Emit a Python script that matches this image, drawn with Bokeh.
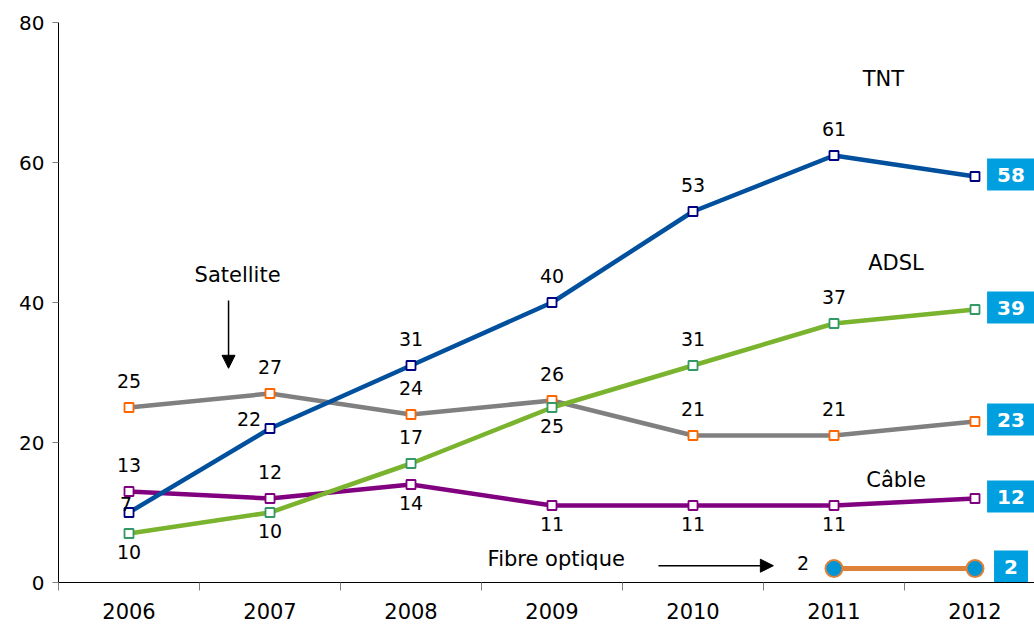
from bokeh.plotting import figure
from bokeh.models import Range1d, FixedTicker, ColumnDataSource, Label, Arrow, NormalHead
from bokeh.core.properties import value
from bokeh.embed import file_html
from bokeh.resources import INLINE

# ---- data ----
years = ["2006", "2007", "2008", "2009", "2010", "2011", "2012"]
tnt = [10, 22, 31, 40, 53, 61, 58]
adsl = [7, 10, 17, 25, 31, 37, 39]
satellite = [25, 27, 24, 26, 21, 21, 23]
cable = [13, 12, 14, 11, 11, 11, 12]
fibre_years = ["2011", "2012"]
fibre = [2, 2]

tnt_labels = ["7", "22", "31", "40", "53", "61"]
adsl_labels = ["10", "10", "17", "25", "31", "37"]
sat_labels = ["25", "27", "24", "26", "21", "21"]
cable_labels = ["13", "12", "14", "11", "11", "11"]
fibre_labels = ["2"]

y_ticks = [0, 20, 40, 60, 80]

# label placement styles (screen offsets)
tnt_pos = ["on", "left", "above", "above", "above", "above"]
adsl_pos = ["below", "below", "above", "below", "above", "above"]
sat_pos = ["above"] * 6
cable_pos = ["above", "above", "below", "below", "below", "below"]
fibre_pos = ["far_left"]
OFF = {"above": (0, -27), "below": (0, 18), "on": (-3, -9), "left": (-21, -10),
       "far_left": (-31, -6)}

FONT = "DejaVu Sans"
xi = {y: i + 0.5 for i, y in enumerate(years)}

p = figure(width=1034, height=626, output_backend="svg", toolbar_location=None,
           x_range=Range1d(0, 976 / 141.0), y_range=Range1d(0, 80),
           min_border_left=58, min_border_right=0, min_border_top=22, min_border_bottom=44)
p.outline_line_color = None
p.xgrid.visible = False
p.ygrid.visible = False
p.background_fill_color = "white"

# axes
xa = p.xaxis[0]
xa.ticker = FixedTicker(ticks=[xi[y] for y in years], minor_ticks=list(range(len(years) + 1)))
xa.major_label_overrides = {xi[y]: y for y in years}
xa.major_tick_out = 0
xa.major_tick_in = 0
xa.minor_tick_out = 8
xa.minor_tick_in = 0
xa.minor_tick_line_color = "#808080"
xa.axis_line_color = "black"
xa.major_label_text_font = FONT
xa.major_label_text_font_size = "21px"
xa.major_label_text_color = "black"
xa.major_label_standoff = 12

ya = p.yaxis[0]
ya.ticker = FixedTicker(ticks=y_ticks)
ya.major_tick_out = 6
ya.major_tick_in = 0
ya.minor_tick_line_color = None
ya.major_tick_line_color = "#808080"
ya.axis_line_color = "black"
ya.major_label_text_font = FONT
ya.major_label_text_font_size = "20px"
ya.major_label_text_color = "black"
ya.major_label_standoff = 8

series = [
    (cable, cable_labels, cable_pos, "#800080", "#800080"),
    (satellite, sat_labels, sat_pos, "#808080", "#FF6600"),
    (adsl, adsl_labels, adsl_pos, "#7AB32E", "#339966"),
    (tnt, tnt_labels, tnt_pos, "#00509E", "#000080"),
]

box_src = dict(x=[], y=[], t=[])
for vals, labs, pos, lc, mc in series:
    xs = [xi[y] for y in years]
    p.line(xs, vals, line_color=lc, line_width=4.5)
    p.scatter(xs, vals, marker="square", size=9, fill_color="white",
              line_color=mc, line_width=1.8)
    src = ColumnDataSource(dict(x=xs[:len(labs)], y=vals[:len(labs)], t=labs,
                                xo=[OFF[k][0] for k in pos], yo=[OFF[k][1] for k in pos]))
    p.text("x", "y", text="t", x_offset="xo", y_offset="yo", source=src,
           text_font=value(FONT), text_font_size="19px", text_color="black",
           text_align="center", text_baseline="middle")
    box_src["x"].append(xs[-1]); box_src["y"].append(vals[-1]); box_src["t"].append(str(vals[-1]))

# fibre optique
fx = [xi[y] for y in fibre_years]
p.line(fx, fibre, line_color="#DE823A", line_width=5)
p.scatter(fx, fibre, marker="circle", size=17, fill_color="#0096D6",
          line_color="#DE823A", line_width=2)
fsrc = ColumnDataSource(dict(x=fx[:1], y=fibre[:1], t=fibre_labels,
                             xo=[OFF[k][0] for k in fibre_pos], yo=[OFF[k][1] for k in fibre_pos]))
p.text("x", "y", text="t", x_offset="xo", y_offset="yo", source=fsrc,
       text_font=value(FONT), text_font_size="19px", text_color="black",
       text_align="center", text_baseline="middle")
box_src["x"].append(fx[-1]); box_src["y"].append(fibre[-1]); box_src["t"].append(str(fibre[-1]))

# value boxes at the end
p.text("x", "y", text="t", source=ColumnDataSource(box_src), x_offset=36, y_offset=-2,
       text_font=value(FONT), text_font_size="20px", text_font_style="bold",
       text_color="white", text_align="center", text_baseline="middle",
       background_fill_color="#009FDF",
       padding=dict(left=10, right=10, top=9, bottom=9))

# series names
for txt, x, y in [("TNT", 5.85, 72), ("ADSL", 5.94, 45.7), ("Câble", 5.94, 14.7),
                  ("Satellite", 1.27, 44), ("Fibre optique", 3.53, 3.3)]:
    p.add_layout(Label(x=x, y=y, text=txt, text_font=FONT, text_font_size="21px",
                       text_color="black", text_align="center", text_baseline="middle"))

p.add_layout(Arrow(end=NormalHead(size=13, fill_color="black", line_color="black"),
                   x_start=1.206, y_start=40.3, x_end=1.206, y_end=30.6,
                   line_color="black", line_width=1.5))
p.add_layout(Arrow(end=NormalHead(size=13, fill_color="black", line_color="black"),
                   x_start=4.255, y_start=2.4, x_end=5.07, y_end=2.4,
                   line_color="black", line_width=1.5))

open("out.html", "w").write(file_html(p, INLINE))
